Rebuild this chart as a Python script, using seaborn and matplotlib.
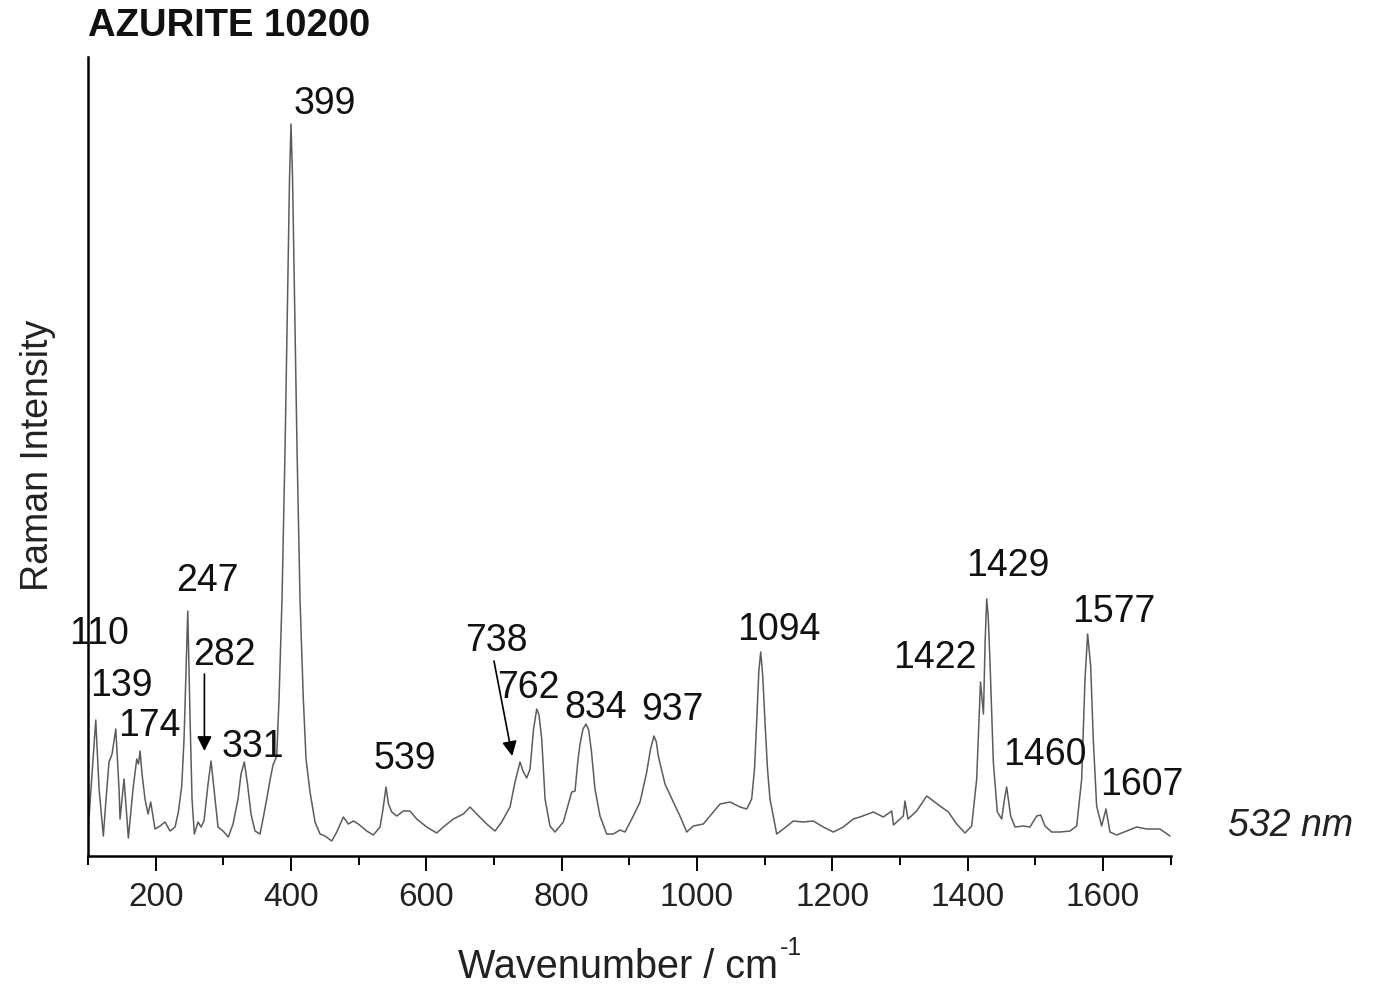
from matplotlib import pyplot as plt
from matplotlib import font_manager
from matplotlib.ticker import MultipleLocator
import seaborn as sns
import pandas as pd

# spectrum (wavenumber / cm-1, intensity in a.u.)
wavenumber = [101.5, 111.4, 116.3, 122.6, 126.6, 131.0, 135.5, 141.0, 145.8, 147.3,
              153.2, 159.6, 166.5, 172.0, 174.6, 176.9, 179.8, 184.2, 188.7, 192.6,
              199.0, 206.4, 213.8, 221.2, 228.6, 233.5, 238.5, 241.9, 247.4, 250.8,
              253.7, 257.1, 262.6, 267.0, 271.4, 277.4, 281.8, 286.2, 292.1, 299.5,
              307.4, 314.3, 321.7, 326.1, 331.0, 335.7, 340.9, 346.8, 354.2, 358.6,
              364.1, 369.0, 373.4, 378.9, 382.3, 386.7, 391.2, 394.9, 397.8, 400.0,
              402.3, 405.2, 408.9, 413.3, 418.2, 422.2, 428.1, 435.5, 442.9, 450.3,
              460.2, 467.6, 477.3, 484.7, 492.1, 499.5, 511.9, 521.7, 531.6, 536.0,
              540.4, 544.1, 548.9, 556.3, 566.0, 575.9, 585.8, 600.6, 615.4, 625.1,
              639.9, 654.7, 664.6, 674.5, 689.3, 701.5, 711.4, 723.7, 731.1, 738.5,
              742.9, 748.4, 753.3, 758.5, 763.2, 766.6, 770.6, 775.5, 782.8, 790.2,
              802.5, 814.9, 819.8, 824.0, 827.2, 831.6, 836.0, 840.0, 844.0, 849.3,
              856.7, 866.6, 876.4, 886.3, 893.7, 905.9, 915.9, 925.8, 931.4, 936.5,
              940.0, 942.9, 952.8, 965.1, 974.9, 984.9, 994.6, 1009.4, 1019.3, 1034.1,
              1048.9, 1063.7, 1073.6, 1080.9, 1085.1, 1088.3, 1091.5, 1094.3, 1097.3, 1100.6,
              1104.3, 1108.0, 1117.9, 1127.7, 1142.4, 1157.2, 1172.0, 1186.8, 1201.6, 1216.3,
              1231.1, 1241.0, 1260.7, 1275.5, 1287.9, 1290.5, 1305.0, 1307.5, 1312.0, 1324.8,
              1339.6, 1349.4, 1359.3, 1371.6, 1384.0, 1396.2, 1406.1, 1413.5, 1419.1, 1423.5,
              1426.0, 1428.3, 1430.5, 1433.2, 1438.1, 1444.0, 1450.5, 1454.6, 1457.8, 1463.7,
              1470.1, 1482.4, 1492.3, 1502.2, 1508.1, 1514.4, 1524.3, 1536.6, 1551.4, 1561.3,
              1568.7, 1573.6, 1577.5, 1582.0, 1585.8, 1590.8, 1598.2, 1604.6, 1610.5, 1620.4,
              1635.2, 1650.0, 1664.7, 1684.4, 1699.2]
intensity = [39, 136, 67, 20, 57, 94, 102, 127, 67, 37,
             77, 18, 67, 97, 92, 105, 82, 57, 42, 54,
             27, 30, 34, 25, 29, 44, 70, 117, 245, 137,
             57, 22, 34, 29, 35, 72, 95, 67, 29, 25,
             19, 32, 57, 82, 94, 72, 42, 25, 22, 37,
             57, 76, 91, 100, 157, 257, 407, 557, 677, 732,
             677, 557, 407, 257, 157, 97, 64, 34, 22, 20,
             15, 24, 39, 32, 35, 32, 25, 21, 29, 47,
             69, 52, 44, 40, 45, 45, 37, 29, 23, 29,
             37, 42, 49, 42, 32, 25, 34, 49, 74, 94,
             85, 78, 87, 127, 147, 141, 117, 57, 30, 24,
             34, 64, 65, 95, 112, 127, 132, 126, 105, 67,
             40, 22, 22, 26, 24, 40, 54, 84, 107, 120,
             114, 100, 72, 54, 40, 24, 30, 32, 40, 52,
             54, 49, 47, 57, 87, 134, 185, 204, 180, 134,
             87, 57, 22, 27, 35, 34, 35, 29, 24, 29,
             37, 39, 44, 39, 45, 31, 40, 55, 37, 45,
             60, 55, 50, 44, 32, 23, 30, 77, 174, 142,
             215, 257, 240, 194, 94, 44, 37, 57, 69, 40,
             29, 30, 29, 40, 41, 30, 24, 24, 25, 30,
             77, 177, 222, 190, 117, 50, 30, 47, 24, 21,
             25, 29, 27, 27, 20]

# peak labels: text, x, y of label centre
peak_labels = ["110", "139", "174", "247", "282", "331", "399", "539", "738", "762",
               "834", "937", "1094", "1422", "1429", "1460", "1577", "1607"]
label_x = [116, 149, 190, 276, 301, 343, 450, 568, 704, 751,
           850, 964, 1121, 1352, 1459, 1514, 1616, 1657]
label_y = [223, 171, 131, 276, 202, 110, 753, 98, 216, 169,
           149, 147, 227, 199, 291, 102, 245, 72]

# arrows: (tail x, tail y) -> (tip x, tip y)
arrow_tail = [(272, 182), (700, 195)]
arrow_tip = [(272, 105), (727, 100)]

spectrum = pd.DataFrame({"wavenumber": wavenumber, "intensity": intensity})

sns.set_theme(style="ticks")
installed = {f.name for f in font_manager.fontManager.ttflist}
plt.rcParams["font.family"] = ["Liberation Sans", "DejaVu Sans"]
tick_family = "Liberation Sans Narrow" if "Liberation Sans Narrow" in installed else "Liberation Sans"
tick_size = 29 if tick_family == "Liberation Sans Narrow" else 24

figure = plt.figure(figsize = (13.8, 9.87), dpi = 100)
axis = figure.add_axes([0.0638, 0.1317, 0.7844, 0.8095])

sns.lineplot(
    data = spectrum,
    x = "wavenumber",
    y = "intensity",
    color = "#5c5c5c",
    linewidth = 1.1,
    ax = axis
)

axis.set_xlim(100, 1700)
axis.set_ylim(0, 799)
axis.set_xlabel("")
axis.set_ylabel("")
axis.set_yticks([])
axis.xaxis.set_major_locator(MultipleLocator(200))
axis.xaxis.set_minor_locator(MultipleLocator(100))
axis.tick_params(axis = "x", which = "major", length = 11, width = 1.4, direction = "out", pad = 7, colors = "black")
axis.tick_params(axis = "x", which = "minor", length = 6.5, width = 1.4, direction = "out", colors = "black")
for lab in axis.get_xticklabels():
    lab.set_family(tick_family)
    lab.set_fontsize(tick_size)
    lab.set_color("#222222")
for side in ["top", "right"]:
    axis.spines[side].set_visible(False)
for side in ["left", "bottom"]:
    axis.spines[side].set_linewidth(1.8)
    axis.spines[side].set_color("black")

for text, lx, ly in zip(peak_labels, label_x, label_y):
    axis.text(lx, ly, text, fontsize = 27, ha = "center", va = "center", color = "#111111", clip_on = False)

for tail, tip in zip(arrow_tail, arrow_tip):
    axis.annotate(
        "",
        xy = tip,
        xytext = tail,
        arrowprops = dict(arrowstyle = "-|>", color = "black", lw = 1.2, mutation_scale = 22, shrinkA = 0, shrinkB = 0)
    )

figure.text(88 / 1380, 1 - 26 / 987, "AZURITE 10200", fontsize = 27.5, fontweight = "bold", ha = "left", va = "center", color = "#111111")
figure.text(38 / 1380, 1 - 455 / 987, "Raman Intensity", fontsize = 27, rotation = 90, ha = "center", va = "center", color = "#222222")

# x axis title with a small "-1" superscript
xlabel = figure.text(458 / 1380, 1 - 978 / 987, "Wavenumber / cm", fontsize = 28.5, ha = "left", va = "baseline", color = "#222222")
renderer = figure.canvas.get_renderer()
box = xlabel.get_window_extent(renderer = renderer)
figure.text((box.x1 + 2) / 1380, 1 - 955 / 987, "-1", fontsize = 18, ha = "left", va = "baseline", color = "#222222")

figure.text(1291 / 1380, 1 - 826 / 987, "532 nm", fontsize = 27, style = "italic", ha = "center", va = "center", color = "#222222")

figure.savefig("out.png", dpi = 100)
